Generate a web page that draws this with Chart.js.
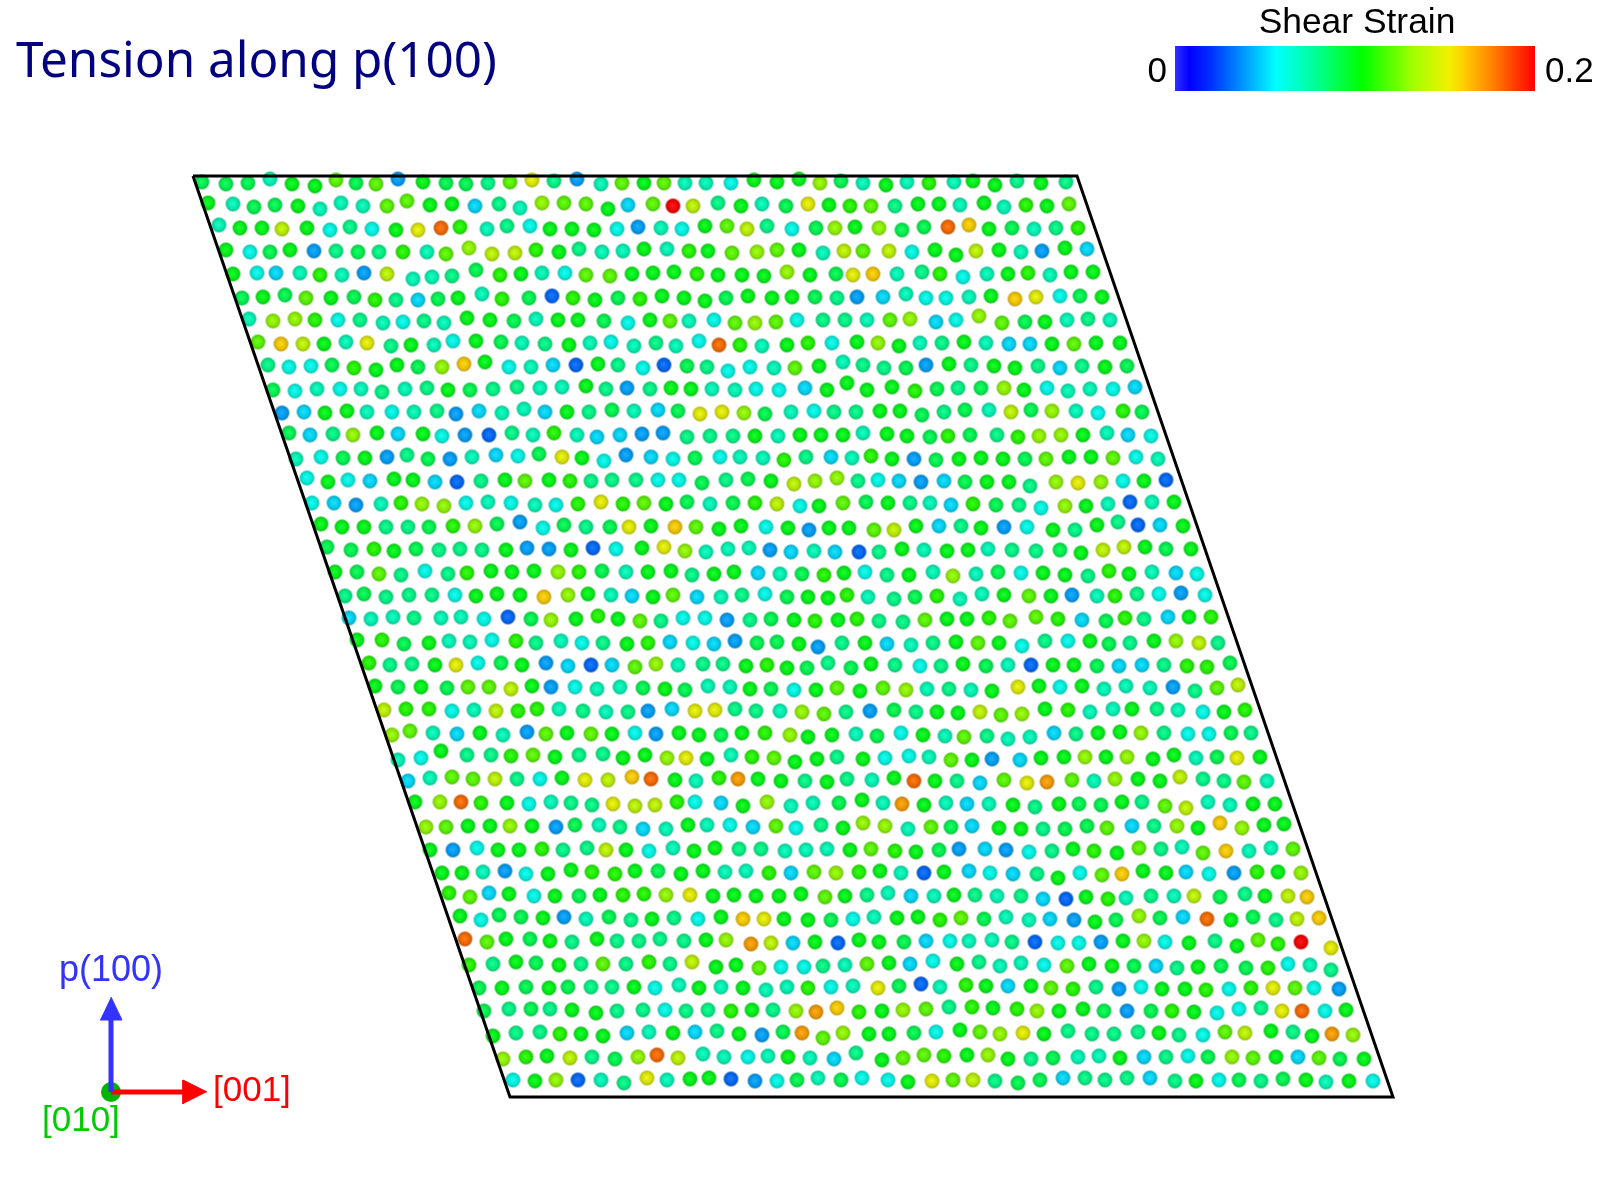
<!DOCTYPE html>
<html>
<head>
<meta charset="utf-8">
<title>Tension along p(100)</title>
<script src="https://cdn.jsdelivr.net/npm/chart.js@4"></script>
<style>
body { margin: 0; background: #fff; }
canvas { display: block; }
</style>
</head>
<body>
<canvas id="atomChart" width="1600" height="1200"></canvas>
<script>
// one list per atom row: x, y, shear strain (x 0.01), x, y, strain, ...
const row01 = [202,182,9,226,184,9,248,183,9,270,179,7,292,184,10,315,186,10,336,180,12,356,183,9,376,184,12,398,179,4,423,182,10,446,183,9,466,184,9,488,183,8,510,182,12,532,180,15,554,181,8,577,179,4,601,184,7,622,183,12,644,183,10,664,183,12,685,183,7,706,183,7,731,183,6,754,180,10,777,182,10,799,179,10,820,183,13,841,181,9,863,183,7,886,185,10,907,182,7,929,183,11,954,182,7,973,181,10,995,185,10,1017,181,8,1041,183,10,1066,182,8];
const row02 = [208,203,10,233,204,7,254,207,9,275,205,9,298,206,10,320,209,7,341,203,7,363,206,7,387,206,12,407,201,12,430,205,10,452,204,10,475,206,5,499,204,8,520,208,7,542,203,13,564,203,12,586,204,12,608,209,10,628,205,5,653,204,12,673,206,20,693,206,14,718,203,8,741,206,10,762,204,7,786,206,9,808,204,15,829,205,10,850,206,11,871,206,12,895,206,8,918,204,10,939,204,10,960,205,7,984,203,10,1004,207,7,1026,205,11,1047,206,10,1069,204,12];
const row03 = [219,225,7,240,228,10,262,228,10,282,229,14,307,228,10,330,230,6,350,227,8,372,229,6,396,230,10,418,230,15,441,228,18,460,227,11,487,229,7,507,226,8,530,226,6,550,229,10,572,229,10,594,230,10,617,229,6,638,227,4,661,228,7,682,229,6,705,226,10,727,226,12,747,229,14,767,226,8,792,229,6,816,228,9,835,228,13,855,227,10,879,228,13,902,230,9,924,227,9,948,227,18,969,225,16,989,229,10,1012,228,9,1034,229,7,1056,228,8,1078,228,11];
const row04 = [226,250,10,250,252,6,270,252,9,290,250,10,314,251,4,336,251,8,358,252,9,379,252,8,403,252,11,427,252,7,446,254,12,469,248,13,492,254,14,515,253,14,536,250,11,559,252,10,579,249,8,602,252,7,623,251,7,644,249,10,667,249,7,689,251,11,708,251,10,732,253,12,757,252,13,777,250,12,799,250,10,823,253,7,844,251,14,863,251,12,889,251,14,912,252,6,935,250,10,956,255,10,976,251,14,999,250,10,1021,252,7,1042,251,4,1065,248,10,1087,249,5];
const row05 = [233,274,10,257,273,6,276,273,5,300,273,7,320,275,11,342,275,7,364,273,4,387,274,14,413,279,7,432,277,7,452,276,8,476,270,9,500,275,11,521,274,10,542,273,7,565,273,6,586,275,12,610,276,12,632,274,10,653,273,10,674,272,10,697,274,11,718,275,10,742,275,10,764,276,10,787,272,13,810,275,10,836,274,9,853,275,15,873,274,16,897,274,7,922,272,8,940,274,11,963,277,6,987,274,7,1008,274,10,1028,273,11,1050,275,7,1071,272,10,1093,272,10];
const row06 = [242,298,9,263,297,10,285,295,9,306,298,12,331,298,10,354,297,9,375,300,11,396,300,8,418,300,5,438,299,9,458,298,10,482,294,7,502,299,11,529,298,9,552,296,3,573,298,11,595,300,10,618,298,9,640,299,11,662,296,10,684,298,10,705,301,10,726,298,9,748,296,10,772,298,10,792,297,10,815,297,9,837,298,8,857,297,4,883,297,5,906,294,7,926,298,6,946,298,6,969,297,7,991,296,10,1015,299,16,1036,297,15,1060,296,6,1080,296,9,1102,297,10];
const row07 = [249,319,7,273,321,13,295,319,13,315,320,11,338,320,6,360,320,8,383,323,7,403,322,6,424,321,8,444,323,7,467,318,10,490,320,10,514,321,9,536,319,7,558,320,10,578,320,10,604,321,9,628,323,6,650,320,10,670,321,12,689,321,7,714,320,6,735,323,12,755,323,13,776,322,12,797,320,6,823,320,8,845,320,8,867,320,7,890,320,12,910,319,13,936,322,5,956,320,6,979,316,13,1002,323,12,1025,322,9,1045,322,10,1067,320,7,1088,319,8,1110,320,7];
const row08 = [258,342,12,281,344,16,303,344,14,324,344,10,346,342,7,367,343,15,391,346,8,411,345,10,434,345,7,453,341,6,476,341,10,501,342,9,522,343,7,545,344,8,569,345,10,590,343,7,611,342,6,634,346,7,656,343,8,676,346,7,699,341,6,719,345,18,740,345,11,762,346,7,787,345,10,808,343,11,832,343,6,857,342,10,878,343,13,899,346,10,920,343,7,942,343,8,964,342,10,986,343,7,1009,344,5,1030,344,5,1052,344,10,1074,344,12,1096,343,10,1120,343,10];
const row09 = [268,365,8,289,367,6,311,366,6,332,365,9,354,368,11,376,370,10,397,365,10,418,367,9,442,367,13,464,364,16,485,362,10,509,367,6,531,367,7,553,365,5,576,365,3,598,364,10,618,365,8,643,368,6,664,365,3,687,366,9,707,367,8,728,371,6,750,367,6,774,368,7,795,368,12,819,366,10,843,362,7,863,365,8,884,368,8,906,368,9,926,365,4,949,364,10,971,365,8,994,366,10,1015,368,10,1038,366,8,1060,368,5,1082,366,8,1105,367,10,1127,366,9];
const row10 = [273,390,9,295,391,6,317,389,7,340,389,6,361,389,7,382,392,8,405,389,7,427,388,8,448,390,10,470,390,9,493,389,8,517,387,8,540,388,7,562,387,7,586,386,10,606,389,8,627,388,4,650,389,8,671,388,10,691,389,10,712,389,7,735,390,7,756,389,6,779,390,6,805,388,5,827,390,10,847,383,10,867,390,10,892,387,10,915,391,11,937,389,9,958,388,8,981,388,9,1004,388,13,1024,390,10,1047,388,6,1068,391,7,1090,389,7,1113,389,6,1135,387,5];
const row11 = [282,413,4,304,412,5,325,413,10,347,411,10,367,412,7,392,412,6,414,412,7,437,411,8,456,414,4,479,411,5,502,413,7,524,409,7,545,412,5,567,412,10,589,412,8,612,410,9,634,411,7,658,410,5,678,411,9,700,414,15,722,412,15,744,413,13,765,414,9,791,412,7,814,411,6,834,412,8,856,412,8,880,411,10,900,411,10,922,415,9,944,412,8,965,410,9,989,410,7,1011,412,14,1031,410,9,1052,411,13,1076,411,7,1098,413,6,1123,411,11,1142,412,9];
const row12 = [289,433,9,310,435,5,333,434,8,353,435,13,377,433,10,398,434,5,423,434,10,442,436,6,465,435,4,489,435,3,512,433,8,533,435,7,554,433,11,577,435,7,597,437,5,620,435,5,642,434,4,663,433,4,687,437,8,710,436,8,733,436,8,755,436,10,778,436,7,800,435,10,821,435,10,843,435,10,863,433,7,887,434,10,907,436,10,930,437,9,948,436,11,970,435,9,997,435,8,1018,437,11,1039,436,13,1061,435,13,1083,435,10,1107,433,7,1128,435,5,1151,436,6];
const row13 = [296,459,7,321,457,6,343,458,9,365,458,10,387,457,4,407,455,8,428,459,9,450,459,4,472,457,7,496,455,5,518,456,6,539,454,9,562,457,15,582,458,10,604,461,6,626,455,4,651,457,5,673,459,6,695,458,9,720,457,6,740,457,7,763,458,7,784,460,11,806,457,8,831,457,5,852,458,7,871,456,11,892,459,10,914,459,4,936,460,9,959,459,10,981,458,10,1003,459,10,1025,459,9,1046,459,12,1069,457,10,1091,457,10,1113,458,12,1136,457,6,1158,459,7];
const row14 = [307,478,6,328,482,10,348,480,6,370,481,5,394,479,10,413,480,10,435,482,5,457,482,3,481,481,8,505,480,10,525,481,12,549,480,10,570,481,11,591,481,8,612,480,8,636,480,8,658,480,6,679,480,6,702,483,9,726,480,8,748,479,9,771,481,10,794,484,14,815,481,13,837,478,13,858,481,8,878,480,6,899,481,5,921,482,4,944,481,5,965,482,9,987,482,10,1009,482,10,1030,486,8,1056,482,13,1078,483,15,1101,482,13,1123,481,6,1144,481,10,1166,480,3];
const row15 = [312,503,6,334,503,5,356,505,4,381,504,7,401,503,11,422,504,13,444,506,13,466,503,6,488,502,7,511,503,6,535,505,7,556,505,6,578,504,11,601,502,15,623,504,11,644,503,12,666,504,10,687,502,9,710,504,7,733,503,9,755,503,11,777,504,14,800,506,6,819,506,10,843,503,12,866,502,9,888,503,10,910,503,8,930,503,7,951,505,5,973,504,11,996,505,9,1019,505,8,1041,508,6,1065,506,13,1086,506,10,1108,504,7,1130,502,3,1152,502,7,1174,502,10];
const row16 = [321,524,10,342,527,10,364,527,10,386,527,8,408,527,8,429,527,9,453,526,11,475,526,13,497,524,9,520,522,4,543,528,6,564,525,9,586,527,8,610,527,9,629,527,15,651,526,10,675,527,16,696,527,12,719,529,10,741,526,10,766,527,6,788,528,10,809,530,4,829,528,10,849,528,10,874,530,12,894,530,14,916,526,10,939,526,5,961,526,8,981,528,10,1004,527,4,1027,527,6,1053,530,10,1075,530,8,1097,525,10,1118,522,8,1138,525,3,1160,525,5,1183,526,10];
const row17 = [327,547,9,351,550,9,374,549,11,394,551,10,416,549,9,439,550,8,460,549,8,482,550,8,506,550,10,527,548,4,549,549,4,571,550,10,593,548,3,616,549,6,642,548,10,664,547,15,685,551,13,706,552,7,728,549,7,749,548,7,770,550,4,791,552,5,814,551,7,835,552,5,859,552,3,879,552,8,902,549,10,924,550,7,947,551,10,968,550,10,988,549,7,1012,550,8,1036,551,8,1060,550,9,1081,553,10,1103,550,14,1124,547,14,1145,547,10,1166,549,9,1191,549,10];
const row18 = [335,572,10,357,572,9,379,574,12,401,575,8,425,571,6,448,574,8,467,573,11,491,571,10,512,572,10,534,571,10,558,572,13,579,572,11,602,571,9,626,572,7,648,572,10,671,571,10,692,575,8,714,574,10,734,572,10,758,573,5,780,574,7,802,574,9,824,575,11,844,573,10,865,572,6,887,575,8,909,575,10,933,572,7,953,576,13,976,574,7,998,572,9,1021,573,6,1043,573,10,1065,575,10,1088,576,8,1109,571,11,1129,574,10,1152,572,7,1176,573,5,1197,574,6];
const row19 = [345,596,8,364,594,9,386,597,8,409,595,8,432,595,8,455,595,6,476,596,10,497,594,10,520,595,10,544,597,16,568,595,13,588,594,10,611,595,7,632,596,5,653,597,10,673,595,12,697,597,5,721,597,7,742,595,8,765,594,6,787,597,9,808,597,10,828,598,10,847,595,11,868,597,7,894,599,8,915,597,9,937,596,11,960,599,7,982,594,7,1004,595,10,1029,596,12,1051,596,10,1072,595,4,1097,596,7,1115,596,11,1137,594,8,1159,594,6,1181,593,4,1205,595,6];
const row20 = [349,618,5,371,619,7,393,617,7,414,618,8,441,618,7,461,617,7,484,619,6,508,617,3,531,619,9,551,620,13,576,619,10,598,616,11,618,619,10,640,621,12,661,621,8,683,618,6,705,618,6,727,620,4,750,620,8,771,619,9,794,620,10,815,621,11,838,620,10,857,619,11,879,621,8,903,622,8,925,620,12,947,619,10,967,619,10,989,618,11,1010,621,12,1036,617,12,1058,619,11,1082,620,5,1106,621,9,1125,618,11,1144,619,8,1168,617,5,1189,617,10,1211,617,11];
const row21 = [357,640,10,382,640,11,404,644,9,429,643,10,449,641,7,470,642,7,492,640,6,516,641,11,536,643,8,561,641,7,582,643,6,603,643,8,627,644,10,648,643,11,670,642,5,693,643,6,714,644,5,735,641,4,757,643,9,777,642,9,799,644,10,818,647,4,842,643,8,865,643,10,887,644,5,911,645,7,933,643,8,956,642,10,978,643,12,999,643,10,1022,646,6,1045,641,8,1068,641,6,1090,641,10,1109,644,9,1130,643,8,1154,641,10,1176,641,13,1199,643,14,1218,643,8];
const row22 = [369,663,11,390,665,8,412,664,8,435,665,10,456,665,15,478,663,6,501,663,9,522,665,10,546,663,4,568,666,5,591,665,3,612,665,5,635,667,12,656,664,13,678,665,7,703,664,8,723,664,8,746,666,10,767,665,11,787,668,10,807,668,9,828,663,8,851,668,9,871,664,10,895,665,8,920,666,6,941,666,8,963,664,10,986,666,9,1008,665,7,1031,665,3,1053,665,10,1074,665,10,1097,666,9,1119,666,5,1142,665,5,1164,665,8,1187,666,11,1207,667,11,1230,663,9];
const row23 = [375,686,10,398,687,9,421,687,10,447,688,9,468,687,12,489,687,12,511,689,14,532,686,10,551,687,4,575,687,6,597,689,7,620,687,7,643,688,9,665,689,10,685,690,9,708,686,7,730,687,7,750,689,10,771,689,9,794,690,6,816,690,10,837,688,12,860,691,10,883,688,12,906,690,13,927,689,7,949,689,8,971,690,7,992,691,10,1018,687,15,1039,686,10,1060,687,6,1082,686,10,1104,689,7,1126,686,7,1150,688,7,1173,687,4,1195,691,8,1217,688,12,1238,685,14];
const row24 = [384,710,14,406,709,11,429,709,11,452,711,6,474,710,7,496,711,14,518,711,11,537,709,11,559,709,7,583,711,8,606,712,7,628,712,8,648,711,4,672,709,5,695,711,15,715,710,15,735,709,8,756,711,8,780,711,7,802,712,13,824,714,12,846,712,8,870,711,4,894,710,9,916,712,8,937,712,10,958,713,10,980,712,14,1001,715,12,1022,714,13,1045,709,10,1068,710,11,1090,712,7,1113,709,7,1132,709,10,1157,709,8,1178,710,7,1203,712,6,1224,712,10,1245,710,11];
const row25 = [392,735,13,410,731,12,433,733,7,457,734,5,480,733,10,503,735,7,527,732,4,546,734,12,567,733,10,591,734,12,612,734,10,635,733,6,656,734,4,679,733,10,699,735,10,721,735,9,742,733,10,765,733,11,790,735,13,808,737,10,832,735,10,856,734,7,877,736,9,901,733,6,923,735,10,945,736,7,964,737,12,987,736,8,1008,739,7,1030,737,7,1054,733,5,1076,734,8,1098,733,10,1120,732,10,1141,733,13,1164,733,8,1188,734,6,1209,734,6,1231,733,9,1251,733,8];
const row26 = [398,760,7,421,758,6,441,751,10,467,755,8,491,755,8,511,756,11,533,755,12,555,757,10,579,755,8,603,754,8,623,758,10,645,755,10,667,758,13,686,758,15,707,759,10,731,755,7,752,757,11,774,758,12,795,762,10,817,759,10,837,757,8,863,759,10,885,758,6,909,756,6,929,757,7,951,760,12,972,760,10,992,759,4,1020,760,5,1041,758,10,1064,757,10,1085,757,13,1106,757,10,1127,757,13,1153,759,10,1174,755,10,1196,758,7,1217,757,9,1237,758,15,1260,757,10];
const row27 = [408,781,5,430,778,7,452,777,12,473,779,12,495,779,14,517,779,8,540,779,6,562,778,10,585,780,15,608,780,14,632,777,16,651,779,18,675,780,10,696,781,7,719,778,11,738,779,17,758,779,10,781,781,10,805,781,8,827,782,10,847,779,8,872,780,7,894,778,10,914,781,18,935,781,10,957,781,8,980,783,5,1004,780,12,1027,783,15,1047,782,17,1072,780,12,1094,781,7,1115,779,13,1138,779,10,1160,781,10,1180,777,14,1203,779,8,1224,781,8,1244,782,12,1267,781,7];
const row28 = [415,802,10,440,802,13,461,802,18,481,803,11,507,803,10,529,804,6,551,802,7,571,803,8,592,805,8,613,804,15,635,806,14,655,805,14,677,802,11,695,802,6,721,803,5,743,806,10,767,802,13,791,806,7,813,803,7,839,803,9,862,800,10,883,803,7,902,804,17,924,805,10,946,803,7,967,804,5,989,804,7,1013,805,10,1035,807,8,1059,804,10,1079,804,9,1101,805,9,1122,802,10,1142,802,8,1165,806,12,1186,808,14,1208,802,7,1230,805,7,1253,804,10,1275,804,10];
const row29 = [426,827,13,446,827,12,468,826,10,490,826,10,510,826,13,532,826,10,556,827,4,575,825,9,599,825,7,620,827,8,643,829,5,666,829,7,688,825,10,707,825,7,730,825,6,753,827,5,776,826,12,796,828,6,821,825,8,843,828,10,863,823,13,885,826,13,908,829,7,931,827,12,951,827,9,972,826,5,999,828,10,1021,829,10,1043,829,8,1065,829,9,1087,826,9,1107,828,12,1132,826,5,1154,826,8,1177,826,13,1198,828,10,1220,823,16,1242,828,13,1264,825,10,1284,824,10];
const row30 = [430,850,10,453,850,4,477,848,6,498,850,10,519,850,10,542,849,11,563,850,8,587,848,8,606,850,14,626,850,10,649,851,6,673,848,7,694,851,10,715,848,10,739,849,8,761,849,8,785,851,7,806,850,7,827,849,7,850,850,10,871,849,12,895,851,11,916,852,10,939,850,9,959,849,4,985,849,5,1006,850,4,1029,852,6,1052,851,8,1073,849,10,1094,851,11,1117,853,10,1139,848,12,1161,849,8,1182,847,7,1203,853,12,1226,851,16,1249,851,7,1271,848,7,1293,849,12];
const row31 = [442,873,10,462,873,10,483,872,7,505,871,4,526,874,6,548,874,10,571,870,10,592,872,11,615,874,11,635,871,10,658,871,9,681,874,10,703,871,10,725,872,7,746,871,7,769,873,11,791,873,5,814,872,12,836,873,13,859,872,11,880,871,10,901,873,7,924,873,3,944,872,10,969,871,5,990,873,6,1013,874,5,1037,874,8,1058,878,10,1080,873,6,1102,875,12,1122,874,16,1143,871,10,1166,873,10,1186,872,5,1209,874,6,1234,873,4,1257,872,11,1278,872,10,1301,873,13];
const row32 = [449,893,11,470,897,12,489,893,5,509,894,10,534,896,6,555,896,10,579,896,9,600,895,10,623,895,11,644,894,11,666,895,13,690,895,15,713,896,10,734,895,10,756,896,10,779,896,10,801,894,10,825,897,12,845,896,10,867,895,8,888,893,7,911,896,5,934,896,7,954,895,10,975,895,8,997,896,7,1021,896,8,1043,899,5,1066,899,3,1086,897,10,1108,899,11,1126,898,7,1151,896,8,1174,896,7,1194,896,14,1220,897,9,1245,894,8,1265,896,10,1288,896,14,1307,897,16];
const row33 = [460,916,10,481,920,6,499,915,9,521,917,9,543,918,10,564,917,4,586,919,7,609,917,9,631,920,8,652,919,10,674,918,8,698,919,6,721,917,10,743,919,16,764,919,15,784,919,10,808,920,10,831,920,9,853,919,6,874,917,7,897,918,10,918,917,10,940,920,11,961,918,12,984,919,9,1006,917,7,1029,920,7,1050,919,5,1074,920,4,1095,922,10,1116,920,9,1139,916,13,1160,918,9,1183,917,5,1207,919,18,1231,920,10,1253,917,9,1276,920,8,1297,919,14,1319,918,16];
const row34 = [465,939,18,487,942,12,506,939,10,530,939,9,550,941,10,572,942,8,597,939,10,617,941,8,639,941,8,660,939,8,684,941,8,706,940,10,726,940,13,751,944,17,771,943,14,793,943,5,815,942,10,838,943,3,859,940,10,879,942,10,904,942,9,926,941,5,950,941,6,969,941,7,992,940,7,1012,942,8,1035,942,3,1058,943,6,1079,943,6,1101,942,4,1123,941,10,1144,941,13,1165,942,6,1189,943,10,1215,941,8,1237,946,10,1258,940,12,1278,944,11,1301,942,20,1331,948,15];
const row35 = [469,965,11,493,964,8,516,962,10,536,963,9,559,965,10,581,964,8,603,964,12,626,964,8,649,962,11,670,964,8,692,962,14,716,967,10,736,965,10,759,968,12,781,967,6,804,967,6,823,966,8,845,965,7,867,964,12,889,963,10,910,964,5,933,961,6,957,964,10,979,962,8,1000,966,7,1021,963,7,1044,965,6,1067,966,12,1089,964,10,1112,966,10,1134,966,9,1156,966,5,1177,968,8,1198,967,10,1221,966,9,1246,968,9,1268,968,11,1288,964,6,1310,965,7,1331,970,8];
const row36 = [479,988,9,502,988,10,526,987,9,549,988,10,568,987,9,591,987,8,612,987,8,634,987,10,655,988,6,679,985,7,699,988,10,721,987,7,743,988,10,766,990,7,787,987,7,808,988,11,831,987,6,853,986,7,878,988,15,899,986,9,921,984,3,940,987,7,966,985,11,986,986,10,1008,986,5,1031,986,10,1051,988,12,1073,989,11,1096,987,8,1119,989,4,1141,987,6,1162,989,10,1185,989,10,1206,990,11,1229,989,6,1251,988,11,1273,988,15,1295,988,12,1314,988,6,1339,989,4];
const row37 = [484,1011,9,509,1009,8,531,1009,9,550,1009,8,572,1010,10,596,1013,10,617,1011,8,643,1010,8,665,1010,6,686,1011,8,708,1010,8,731,1011,11,752,1010,10,773,1010,8,796,1011,13,816,1012,17,837,1008,16,859,1012,11,882,1011,10,903,1010,13,926,1009,12,949,1007,8,972,1007,11,993,1008,10,1017,1009,11,1037,1011,13,1059,1011,10,1083,1009,10,1104,1011,9,1127,1011,4,1151,1011,9,1172,1011,11,1194,1012,10,1217,1013,6,1239,1009,6,1261,1008,8,1282,1011,15,1302,1011,18,1325,1011,6,1346,1010,10];
const row38 = [493,1036,10,516,1033,8,540,1032,8,560,1034,11,581,1034,10,603,1036,10,627,1033,5,649,1032,7,673,1033,10,695,1032,5,717,1031,8,739,1034,10,762,1035,4,783,1032,9,802,1033,17,823,1038,12,843,1033,13,869,1034,10,889,1034,10,914,1033,9,936,1032,6,960,1030,10,980,1032,12,1000,1034,13,1023,1033,15,1044,1034,10,1068,1031,8,1092,1034,8,1114,1034,8,1138,1032,8,1159,1033,10,1179,1035,8,1203,1035,6,1225,1032,12,1245,1033,14,1271,1031,10,1293,1032,8,1312,1036,10,1332,1034,17,1353,1035,13];
const row39 = [503,1059,13,526,1057,11,547,1056,10,570,1058,14,592,1057,8,615,1059,9,638,1057,13,657,1055,18,678,1058,14,703,1054,7,724,1057,7,748,1057,6,768,1056,7,788,1057,10,810,1058,7,834,1059,5,856,1053,8,882,1060,10,903,1058,12,924,1055,12,944,1056,11,967,1055,10,988,1055,13,1008,1059,10,1031,1059,8,1053,1058,9,1078,1057,7,1099,1056,7,1120,1058,10,1144,1057,5,1166,1057,8,1188,1056,6,1208,1057,9,1232,1057,13,1253,1058,12,1276,1057,10,1298,1057,5,1319,1058,12,1340,1059,9,1364,1059,10];
const row40 = [513,1080,6,535,1081,10,556,1080,13,578,1080,3,601,1080,7,624,1083,8,647,1078,15,667,1080,7,690,1079,10,709,1078,10,731,1079,3,755,1081,4,777,1081,6,797,1080,9,818,1078,7,841,1080,9,862,1078,6,888,1080,6,908,1082,10,932,1081,15,953,1080,12,973,1080,14,995,1081,8,1018,1083,9,1040,1080,9,1063,1078,5,1085,1078,8,1105,1080,8,1127,1078,8,1150,1078,5,1175,1081,8,1196,1081,10,1219,1080,6,1239,1080,9,1261,1081,8,1283,1079,9,1306,1080,10,1326,1082,7,1349,1081,10,1373,1081,6];

const allRows = [row01,row02,row03,row04,row05,row06,row07,row08,row09,row10,row11,row12,row13,row14,row15,row16,row17,row18,row19,row20,row21,row22,row23,row24,row25,row26,row27,row28,row29,row30,row31,row32,row33,row34,row35,row36,row37,row38,row39,row40];
const cellEdge = [[193,176],[1077,176],[1393,1097],[510,1097],[193,176]];
const strainTicks = ["0", "0.2"];

// colour bar stops, strain x 0.01 -> rgb
const colorStops = [
    [0, [48,48,255]], [0.8, [0,0,255]], [2, [0,48,255]], [5.6, [0,255,255]],
    [7.9, [0,255,144]], [10.4, [0,255,0]], [13.2, [160,255,0]], [15.2, [240,240,0]],
    [16, [255,208,0]], [17.5, [255,136,0]], [20, [255,0,0]]
];

function strainColor(s) {
    for (let i = 1; i < colorStops.length; i++) {
        let a = colorStops[i - 1], b = colorStops[i];
        if (s <= b[0]) {
            let t = (s - a[0]) / (b[0] - a[0]);
            return a[1].map((c, k) => Math.round(c + (b[1][k] - c) * t));
        }
    }
    return colorStops[colorStops.length - 1][1];
}

// shaded ball for each strain value
var sprites = {};
function atomSprite(s) {
    if (sprites[s]) return sprites[s];
    var c = document.createElement("canvas");
    c.width = 17;
    c.height = 17;
    var g = c.getContext("2d");
    var rgb = strainColor(s);
    var shade = f => `rgb(${rgb.map(v => Math.round(v * f)).join(",")})`;
    var light = `rgb(${rgb.map(v => Math.round(v * 0.92 + 24)).join(",")})`;
    var grad = g.createRadialGradient(8, 8, 0.5, 8.5, 8.5, 7.4);
    grad.addColorStop(0, light);
    grad.addColorStop(0.72, shade(0.9));
    grad.addColorStop(0.9, shade(0.76));
    grad.addColorStop(1, `rgb(${rgb.map(v => Math.round(v * 0.6 + 50)).join(",")})`);
    g.fillStyle = grad;
    g.beginPath();
    g.arc(8.5, 8.5, 7.4, 0, Math.PI * 2);
    g.fill();
    sprites[s] = c;
    return c;
}

var atoms = [];
allRows.forEach(row => {
    for (let i = 0; i < row.length; i += 3) {
        atoms.push({ x: row[i], y: row[i + 1], s: row[i + 2] });
    }
});

function toPoints(list) {
    return list.map(p => ({ x: p[0], y: p[1] }));
}

function lineSet(points, color, width, order) {
    return {
        data: toPoints(points),
        showLine: true,
        borderColor: color,
        borderWidth: width,
        pointRadius: 0,
        order: order
    };
}

function headSet(points, color, order) {
    return {
        data: toPoints(points),
        showLine: true,
        fill: "shape",
        backgroundColor: color,
        borderColor: color,
        borderWidth: 1,
        pointRadius: 0,
        order: order
    };
}

var labelPlugin = {
    id: "labels",
    afterDraw(chart) {
        var ctx = chart.ctx, sx = chart.scales.x, sy = chart.scales.y;
        function text(str, x, y, font, color, align) {
            ctx.font = font;
            ctx.fillStyle = color;
            ctx.textAlign = align;
            ctx.textBaseline = "alphabetic";
            ctx.fillText(str, sx.getPixelForValue(x), sy.getPixelForValue(y));
        }
        // colour bar
        var x0 = sx.getPixelForValue(1175), x1 = sx.getPixelForValue(1535);
        var grad = ctx.createLinearGradient(x0, 0, x1, 0);
        colorStops.forEach(st => grad.addColorStop(st[0] / 20, `rgb(${st[1].join(",")})`));
        ctx.save();
        ctx.fillStyle = grad;
        ctx.fillRect(x0, sy.getPixelForValue(46), x1 - x0, 45);
        var sans = '"Liberation Sans", Arial, sans-serif';
        text("Tension along p(100)", 16, 77, '49.4px "Noto Sans", sans-serif', "#000080", "left");
        text("Shear Strain", 1357, 33, "35.4px " + sans, "#000", "center");
        text(strainTicks[0], 1167, 82, "35px " + sans, "#000", "right");
        text(strainTicks[1], 1545, 82, "35px " + sans, "#000", "left");
        text("p(100)", 59, 981, "36px " + sans, "#3333ff", "left");
        text("[001]", 213, 1101, "35px " + sans, "#ff0000", "left");
        text("[010]", 42, 1131, "35px " + sans, "#00cc00", "left");
        ctx.restore();
    }
};

var chart = new Chart(document.getElementById("atomChart").getContext("2d"), {
    type: "scatter",
    data: {
        datasets: [
            lineSet(cellEdge, "#000", 3, 1),
            lineSet([[111,1092],[111,1020]], "#3333ff", 5, 2),
            headSet([[111,997],[122,1020],[100,1020]], "#3333ff", 2),
            lineSet([[111,1092],[184,1092]], "#ff0000", 5, 3),
            headSet([[207,1092],[183,1080],[183,1104]], "#ff0000", 3),
            {
                data: [{ x: 111, y: 1092 }],
                pointRadius: 10,
                pointBackgroundColor: "#00b400",
                pointBorderWidth: 0,
                order: 4
            },
            {
                data: atoms,
                pointRadius: 8,
                pointStyle: c => atomSprite(c.raw.s),
                order: 5
            }
        ]
    },
    options: {
        responsive: false,
        animation: false,
        layout: { padding: 0, autoPadding: false },
        plugins: {
            legend: { display: false },
            tooltip: { enabled: false }
        },
        scales: {
            x: { type: "linear", min: 0, max: 1600, display: false },
            y: { type: "linear", min: 0, max: 1200, reverse: true, display: false }
        }
    },
    plugins: [labelPlugin]
});
</script>
</body>
</html>
